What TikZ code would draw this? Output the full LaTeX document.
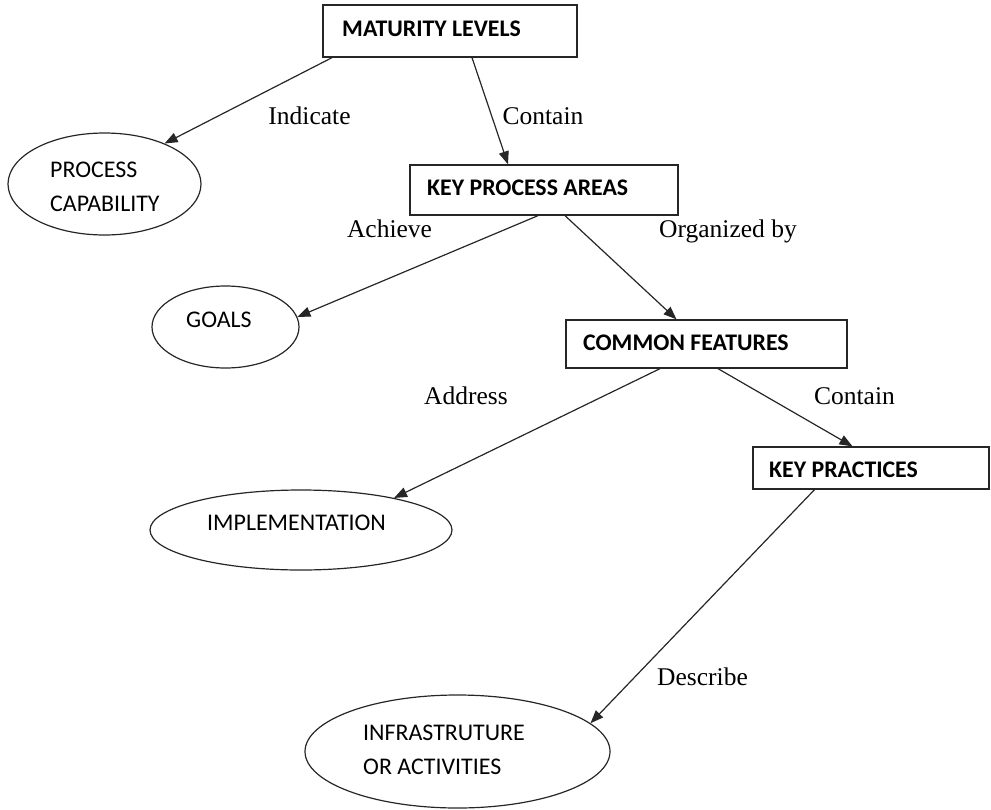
\documentclass[tikz,border=0pt]{standalone}
\usepackage{fontspec}
\setmainfont{Liberation Serif}
\newfontfamily\calfont{Carlito}
\usetikzlibrary{shapes.geometric,arrows.meta}
\begin{document}
\begin{tikzpicture}[x=1pt,y=-1pt,
  box/.style={draw=black!85,line width=1.3pt,rectangle,inner sep=0pt},
  oval/.style={draw=black!85,line width=1.2pt,ellipse,inner sep=0pt},
  boxtext/.style={inner sep=0pt,anchor=base west,font=\calfont\bfseries\fontsize{23.8}{28}\selectfont},
  ovaltext/.style={inner sep=0pt,font=\calfont\fontsize{23.9}{34}\selectfont,align=left},
  rel/.style={inner sep=0pt,anchor=base,font=\fontsize{25.5}{30}\selectfont},
  link/.style={draw=black!85,line width=1.2pt,-{Triangle[length=13pt,width=10pt]}}]
\useasboundingbox (0,0) rectangle (991,809);

% rectangular concept boxes
\node[box,minimum width=254pt,minimum height=52pt] (ml) at (450,31) {};
\node[box,minimum width=268pt,minimum height=50pt] (kpa) at (544,190) {};
\node[box,minimum width=281pt,minimum height=48pt] (cf) at (706.5,344) {};
\node[box,minimum width=236pt,minimum height=42pt] (kp) at (871,468) {};

% elliptical concept nodes
\node[oval,minimum width=193pt,minimum height=102pt] (pc) at (104.5,184) {};
\node[oval,minimum width=147pt,minimum height=82pt] (goals) at (225.5,327) {};
\node[oval,minimum width=302pt,minimum height=80pt] (impl) at (301,530) {};
\node[oval,minimum width=305pt,minimum height=113pt] (infra) at (457.5,751.5) {};

% box captions
\node[boxtext] (mlt) at (342,36) {MATURITY LEVELS};
\node[boxtext] (kpat) at (427,195) {KEY PROCESS AREAS};
\node[boxtext] (cft) at (583,350) {COMMON FEATURES};
\node[boxtext] (kpt) at (769,477) {KEY PRACTICES};

% ellipse captions
\node[ovaltext,anchor=north west] (pct) at (50,162) {PROCESS\\CAPABILITY};
\node[ovaltext,anchor=base west] (goalst) at (186,327) {GOALS};
\node[ovaltext,anchor=base west] (implt) at (207,530) {IMPLEMENTATION};
\node[ovaltext,anchor=north west] (infrat) at (363,725) {INFRASTRUTURE\\OR ACTIVITIES};

% relation labels
\node[rel] (l1) at (309.5,124) {Indicate};
\node[rel] (l2) at (543,124) {Contain};
\node[rel] (l3) at (389.5,237) {Achieve};
\node[rel] (l4) at (728,237) {Organized by};
\node[rel] (l5) at (466,404) {Address};
\node[rel] (l6) at (854.5,404) {Contain};
\node[rel] (l7) at (702.5,685) {Describe};

% connectors
\draw[link] ([xshift=-118pt]ml.south) -- (pc.34);
\draw[link] ([xshift=22pt]ml.south) -- ([xshift=-36pt]kpa.north);
\draw[link] ([xshift=-6pt]kpa.south) -- (goals.8);
\draw[link] ([xshift=21pt]kpa.south) -- ([xshift=-30pt]cf.north);
\draw[link] ([xshift=-46.5pt]cf.south) -- (impl.19);
\draw[link] ([xshift=11.5pt]cf.south) -- ([xshift=-18.5pt]kp.north);
\draw[link] ([xshift=-56.5pt]kp.south) -- (infra.12);
\end{tikzpicture}
\end{document}
